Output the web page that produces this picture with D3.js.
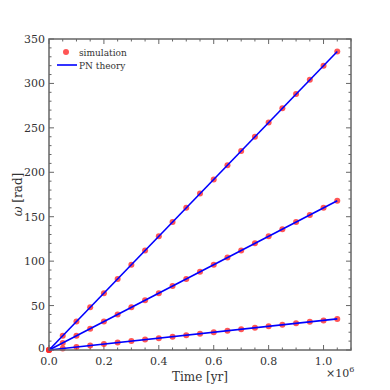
<!DOCTYPE html>
<html><head><meta charset="utf-8">
<script src="https://cdn.jsdelivr.net/npm/d3@7"></script>
<style>body{margin:0;background:#fff}svg{display:block}</style>
</head><body>
<script>
const timeMyr = [0,0.05,0.1,0.15,0.2,0.25,0.3,0.35,0.4,0.45,0.5,0.55,0.6,0.65,0.7,0.75,0.8,0.85,0.9,0.95,1.0,1.05];
const simTop = [0,16,32,48,64,80,96,112,128,144,160,176,192,208,224,240,256,272,288,304,320,336];
const simMid = [0,8,16,24,32,40,48,56,64,72,80,88,96,104,112,120,128,136,144,152,160,168];
const simBot = [0,1.7,3.3,5,6.7,8.3,10,11.7,13.3,15,16.7,18.3,20,21.7,23.3,25,26.7,28.3,30,31.7,33.3,35];
const pnTop = [0,336];
const pnMid = [0,168];
const pnBot = [0,35];
const pnTime = [0,1.05];
const xTicks = [0,0.2,0.4,0.6,0.8,1.0];
const yTicks = [0,50,100,150,200,250,300,350];
const legendLabels = ["simulation","PN theory"];

const FONT = "'DejaVu Serif', serif";
const W=390,H=390, L=49, R=351, T=39, B=350;
const svg=d3.select("body").append("svg").attr("width",W).attr("height",H)
  .attr("font-family",FONT).style("font-family",FONT);
const x=d3.scaleLinear().domain([0,1.1]).range([L,R]);
const y=d3.scaleLinear().domain([0,350]).range([B,T]);
const axisColor="#666";
const txtColor="#333";

const xMinor=d3.range(0,1.1001,0.05), yMinor=d3.range(0,350.01,10);
const g=svg.append("g");
xMinor.forEach(v=>{
  const major=xTicks.some(t=>Math.abs(t-v)<1e-6); const len=major?5:2.5;
  g.append("line").attr("x1",x(v)).attr("x2",x(v)).attr("y1",B).attr("y2",B-len).attr("stroke",axisColor).attr("stroke-width",1);
  g.append("line").attr("x1",x(v)).attr("x2",x(v)).attr("y1",T).attr("y2",T+len).attr("stroke",axisColor).attr("stroke-width",1);
});
yMinor.forEach(v=>{
  const major=yTicks.includes(Math.round(v)); const len=major?5:2.5;
  g.append("line").attr("x1",L).attr("x2",L+len).attr("y1",y(v)).attr("y2",y(v)).attr("stroke",axisColor).attr("stroke-width",1);
  g.append("line").attr("x1",R).attr("x2",R-len).attr("y1",y(v)).attr("y2",y(v)).attr("stroke",axisColor).attr("stroke-width",1);
});

const series=[simTop,simMid,simBot];
const pn=[pnTop,pnMid,pnBot];
series.forEach(s=>{
  svg.append("g").selectAll("circle").data(s).join("circle")
    .attr("cx",(d,i)=>x(timeMyr[i])).attr("cy",d=>y(d)).attr("r",3)
    .attr("fill","#ff2b2b").attr("fill-opacity",0.8);
});
const line=d3.line().x((d,i)=>x(pnTime[i])).y(d=>y(d));
pn.forEach(s=>{
  svg.append("path").datum(s).attr("d",line).attr("fill","none").attr("stroke","#0000ff").attr("stroke-width",1.6);
});

svg.append("rect").attr("x",L).attr("y",T).attr("width",R-L).attr("height",B-T)
  .attr("fill","none").attr("stroke",axisColor).attr("stroke-width",1.5);

svg.append("g").selectAll("text").data(xTicks).join("text")
  .attr("x",d=>x(d)).attr("y",365).attr("text-anchor","middle").attr("font-size",11).attr("fill",txtColor)
  .text(d=>d.toFixed(1));
svg.append("g").selectAll("text").data(yTicks).join("text")
  .attr("x",45).attr("y",d=>y(d)+(d===0?2:4)).attr("text-anchor","end").attr("font-size",11).attr("fill",txtColor)
  .text(d=>d);

svg.append("text").attr("x",(L+R)/2).attr("y",381).attr("text-anchor","middle").attr("font-size",12).attr("fill",txtColor).text("Time [yr]");
svg.append("text").attr("transform",`translate(22,${(T+B)/2}) rotate(-90)`).attr("text-anchor","middle").attr("font-size",12).attr("fill",txtColor)
  .html('<tspan font-style="italic">ω</tspan> [rad]');
const mult=svg.append("text").attr("x",326).attr("y",377).attr("font-size",11).attr("fill",txtColor);
mult.append("tspan").text("×10");
mult.append("tspan").attr("dy",-5).attr("font-size",8).text("6");

svg.append("circle").attr("cx",66).attr("cy",52).attr("r",3).attr("fill","#ff2b2b").attr("fill-opacity",0.8);
svg.append("text").attr("x",79).attr("y",55.5).attr("font-size",9).attr("fill",txtColor).text(legendLabels[0]);
svg.append("line").attr("x1",57).attr("x2",77).attr("y1",65).attr("y2",65).attr("stroke","#0000ff").attr("stroke-width",1.6);
svg.append("text").attr("x",79).attr("y",68.5).attr("font-size",9).attr("fill",txtColor).text(legendLabels[1]);
</script>
</body></html>
